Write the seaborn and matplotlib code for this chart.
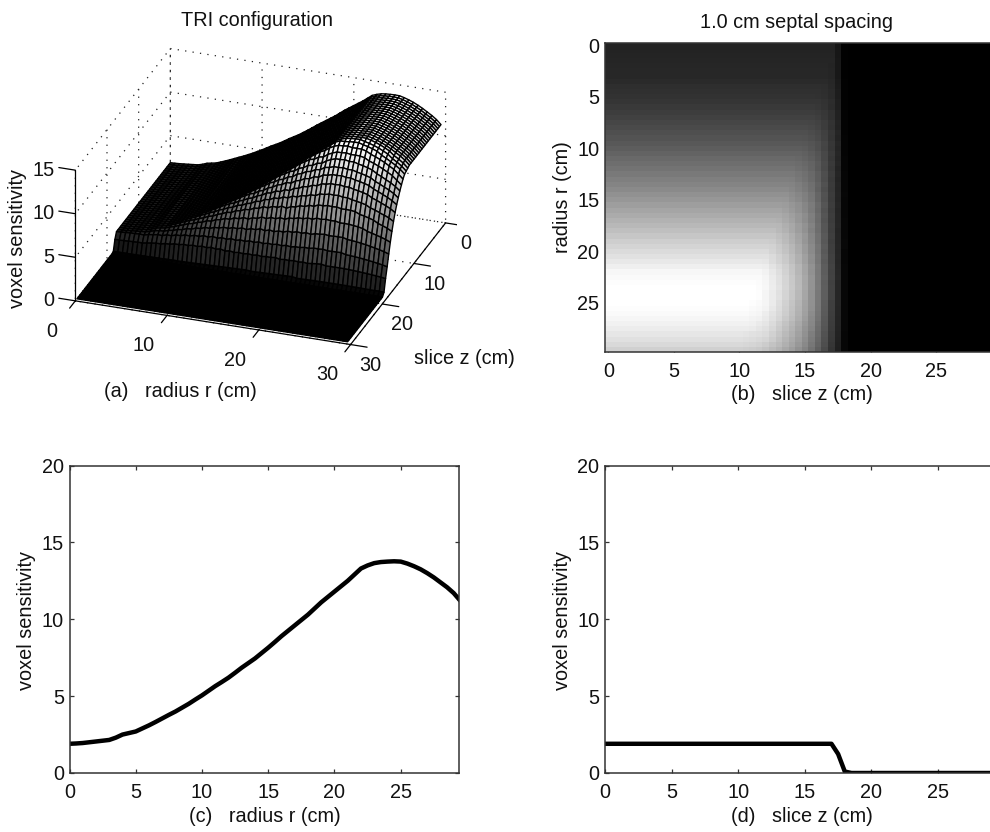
import numpy as np
import pandas as pd
import matplotlib
matplotlib.use("Agg")
import matplotlib.pyplot as plt
import seaborn as sns

# values, 0.5 cm grid

radius_cm = np.arange(0, 30, 0.5)
slice_cm = np.arange(0, 30, 0.5)

# sensitivity along the radius at slice z = 0
sens_vs_radius = [
    1.90, 1.92, 1.95, 2.00, 2.05, 2.10, 2.15, 2.30, 2.50, 2.60,
    2.70, 2.90, 3.10, 3.32, 3.55, 3.78, 4.00, 4.25, 4.50, 4.78,
    5.05, 5.35, 5.65, 5.92, 6.20, 6.52, 6.85, 7.15, 7.45, 7.80,
    8.15, 8.52, 8.90, 9.25, 9.60, 9.95, 10.30, 10.70, 11.10, 11.45,
    11.80, 12.15, 12.50, 12.90, 13.30, 13.50, 13.65, 13.72, 13.75, 13.77,
    13.75, 13.62, 13.45, 13.25, 13.00, 12.72, 12.40, 12.08, 11.70, 11.20,
]

# falloff along the slice axis, one row per 1 cm of radius
# columns are z = 10.5, 11, ... 18 cm
falloff_rows = [
    [1] * 14 + [.65, .05],
    [1] * 14 + [.65, .05],
    [1] * 13 + [.97, .64, .05],
    [1] * 12 + [.99, .93, .62, .05],
    [1] * 12 + [.97, .88, .60, .05],
    [1] * 11 + [.99, .94, .84, .58, .05],
    [1] * 11 + [.97, .90, .78, .55, .05],
    [1] * 10 + [.99, .95, .86, .73, .51, .05],
    [1] * 10 + [.97, .92, .82, .68, .47, .05],
    [1] * 9 + [.99, .95, .89, .78, .63, .43, .05],
    [1] * 9 + [.97, .92, .85, .73, .58, .39, .05],
    [1] * 8 + [.99, .95, .90, .82, .69, .53, .35, .05],
    [1] * 8 + [.97, .93, .87, .78, .65, .49, .31, .05],
    [1] * 7 + [.99, .95, .90, .84, .74, .61, .45, .28, .05],
    [1] * 7 + [.97, .93, .88, .81, .70, .57, .42, .26, .05],
    [1] * 6 + [.99, .95, .91, .85, .78, .67, .54, .39, .24, .04],
    [1] * 6 + [.97, .93, .88, .82, .74, .63, .50, .36, .22, .04],
    [1] * 5 + [.99, .95, .91, .85, .79, .71, .60, .47, .34, .21, .04],
    [1] * 5 + [.97, .93, .88, .82, .76, .67, .57, .45, .32, .19, .04],
    [1] * 4 + [.99, .95, .91, .86, .80, .73, .65, .55, .43, .30, .18, .04],
    [1] * 4 + [.97, .93, .89, .84, .78, .71, .63, .53, .41, .29, .17, .03],
    [1] * 3 + [.99, .95, .91, .87, .82, .76, .69, .61, .51, .39, .28, .16, .03],
    [1] * 3 + [.98, .94, .90, .85, .80, .74, .67, .59, .49, .38, .27, .16, .03],
    [1, 1, .99, .97, .93, .89, .84, .79, .73, .66, .58, .48, .37, .26, .15, .03],
    [1, 1, .99, .96, .92, .88, .83, .78, .72, .65, .57, .47, .37, .26, .15, .03],
    [1, .99, .98, .96, .92, .87, .82, .77, .71, .64, .57, .47, .36, .25, .15, .03],
    [1, .99, .98, .95, .91, .87, .82, .77, .71, .64, .56, .47, .36, .25, .15, .03],
    [1, .99, .97, .95, .91, .86, .81, .76, .70, .63, .56, .46, .36, .25, .15, .03],
    [.99, .98, .97, .95, .91, .86, .81, .76, .70, .63, .55, .46, .36, .25, .15, .03],
    [.99, .98, .97, .94, .90, .86, .81, .76, .70, .63, .55, .46, .36, .25, .15, .03],
]

surface_ticks = [0, 10, 20, 30]
height_ticks = [0, 5, 10, 15]
line_xticks = [0, 5, 10, 15, 20, 25]
line_yticks = [0, 5, 10, 15, 20]

flat_before = np.ones((60, 21))
zero_after = np.zeros((60, 23))
falloff = np.hstack([flat_before, np.repeat(falloff_rows, 2, axis=0), zero_after])
sensitivity = np.array(sens_vs_radius)[:, None] * falloff

radial_df = pd.DataFrame({"radius": radius_cm, "sens": sensitivity[:, 0]})
axial_df = pd.DataFrame({"slice": slice_cm, "sens": sensitivity[0, :]})

sns.set_style("white")
plt.rcParams["font.family"] = ["Liberation Sans", "DejaVu Sans"]
FS = 14.3
INK = "#111111"
SPINE = "#333333"

W, H = 990, 832
fig = plt.figure(figsize=(W / 100, H / 100), dpi=100)


def box(left, top, right, bottom):
    return [left / W, 1 - bottom / H, (right - left) / W, (bottom - top) / H]


def label(x, y, s, **kw):
    fig.text(x / W, 1 - y / H, s, ha="center", va="center", color=INK, fontsize=FS, **kw)


def style_2d(ax, open_right=False):
    ax.tick_params(direction="in", length=3, width=0.9, color=SPINE,
                   bottom=True, left=True, top=True, right=not open_right,
                   labelsize=FS, labelcolor=INK, pad=4)
    ax.tick_params(axis="x", pad=7.5)
    for sp in ax.spines.values():
        sp.set_visible(True)
        sp.set_color(SPINE)
        sp.set_linewidth(1.1)
    if open_right:
        ax.spines["right"].set_visible(False)


# (a) surface
ax_a = fig.add_axes(box(0, 0, 510, 404), projection="3d", proj_type="ortho")
ax_a.set_box_aspect((301, 295, 151), zoom=1.043)
ax_a.view_init(elev=26.8, azim=-70.6)
R, S = np.meshgrid(radius_cm, slice_cm, indexing="ij")
ax_a.plot_surface(R, S, sensitivity, facecolors=plt.cm.gray(sensitivity / sensitivity.max()),
                  rstride=1, cstride=1, edgecolor="black", linewidth=1.0, shade=False)
ax_a.set_xlim(0, 30, view_margin=0)
ax_a.set_ylim(30, 0, view_margin=0)
ax_a.set_zlim(0, 15, view_margin=0)
ax_a.set_xticks(surface_ticks)
ax_a.set_yticks(surface_ticks)
ax_a.set_zticks(height_ticks)
ax_a.set_xticklabels([])
ax_a.set_yticklabels([])
ax_a.set_zticklabels([])
ax_a.patch.set_alpha(0)
for axis in (ax_a.xaxis, ax_a.yaxis, ax_a.zaxis):
    axis.set_pane_color((1, 1, 1, 0))
    axis.pane.set_edgecolor("none")
    axis._axinfo["grid"].update(color="#222222", linestyle=(0, (1, 5)), linewidth=0.9)
    axis._axinfo["tick"].update(inward_factor=0, outward_factor=0)
    axis.line.set_linewidth(0)

# axes of the surface drawn by hand so they sit on the same edges as the reference
ax_a.plot([0, 30], [30, 30], [0, 0], color="black", lw=0.9)
ax_a.plot([30, 30], [0, 30], [0, 0], color="black", lw=0.9)
ax_a.plot([0, 0], [30, 30], [0, 15], color="black", lw=0.9)
for t in surface_ticks:
    ax_a.plot([t, t], [30, 31.8], [0, 0], color="black", lw=0.9)
    ax_a.plot([30, 31.8], [t, t], [0, 0], color="black", lw=0.9)
    ax_a.text(t, 37.5, 0, str(t), ha="center", va="center", fontsize=FS, color=INK)
    ax_a.text(32.2, t, -2.0, str(t), ha="center", va="center", fontsize=FS, color=INK)
for t in height_ticks:
    ax_a.plot([0, -1.8], [30, 30], [t, t], color="black", lw=0.9)
    ax_a.text(-2.3, 30, t - 0.4, str(t), ha="right", va="center", fontsize=FS, color=INK)

# (b) heatmap, cut off at the right edge like the reference
ax_b = fig.add_axes(box(605, 42.5, 990, 352))
sns.heatmap(sensitivity, cmap="gray", vmin=0, vmax=sensitivity.max(), cbar=False,
            ax=ax_b, xticklabels=False, yticklabels=False)
ax_b.set_xlim(0, 58.7)
ax_b.set_xticks(np.array(line_xticks) * 2 + 0.5)
ax_b.set_xticklabels(line_xticks, rotation=0)
ax_b.set_yticks(np.array(line_xticks) * 2 + 0.5)
ax_b.set_yticklabels(line_xticks, rotation=0)
style_2d(ax_b, open_right=True)
ax_b.tick_params(top=False)

# (c) radial profile
ax_c = fig.add_axes(box(69.5, 465.5, 459, 773))
sns.lineplot(data=radial_df, x="radius", y="sens", color="black", linewidth=3.2, ax=ax_c)
ax_c.set_xlim(0, 29.4)
ax_c.set_ylim(0, 20)
ax_c.set_xticks(line_xticks)
ax_c.set_yticks(line_yticks)
ax_c.set(xlabel="", ylabel="")
style_2d(ax_c)

# (d) axial profile
ax_d = fig.add_axes(box(605, 465.5, 990, 773))
sns.lineplot(data=axial_df, x="slice", y="sens", color="black", linewidth=3.2, ax=ax_d)
ax_d.set_xlim(0, 28.9)
ax_d.set_ylim(0, 20)
ax_d.set_xticks(line_xticks)
ax_d.set_yticks(line_yticks)
ax_d.set(xlabel="", ylabel="")
style_2d(ax_d, open_right=True)

# labels
label(257, 20, "TRI configuration")
label(797, 22, "1.0 cm septal spacing")
label(180, 391, "(a)   radius r (cm)")
label(464, 358, "slice z (cm)")
label(802, 394, "(b)   slice z (cm)")
label(265, 817, "(c)   radius r (cm)")
label(802, 817, "(d)   slice z (cm)")
label(18, 238, "voxel sensitivity", rotation=90)
label(562, 197, "radius r (cm)", rotation=90)
label(27, 620, "voxel sensitivity", rotation=90)
label(563, 620, "voxel sensitivity", rotation=90)

# empty placeholder texts are not needed
for ax in fig.axes:
    for txt in ax.findobj(matplotlib.text.Text):
        if not txt.get_text():
            txt.set_visible(False)

fig.savefig("out.png", dpi=100)
